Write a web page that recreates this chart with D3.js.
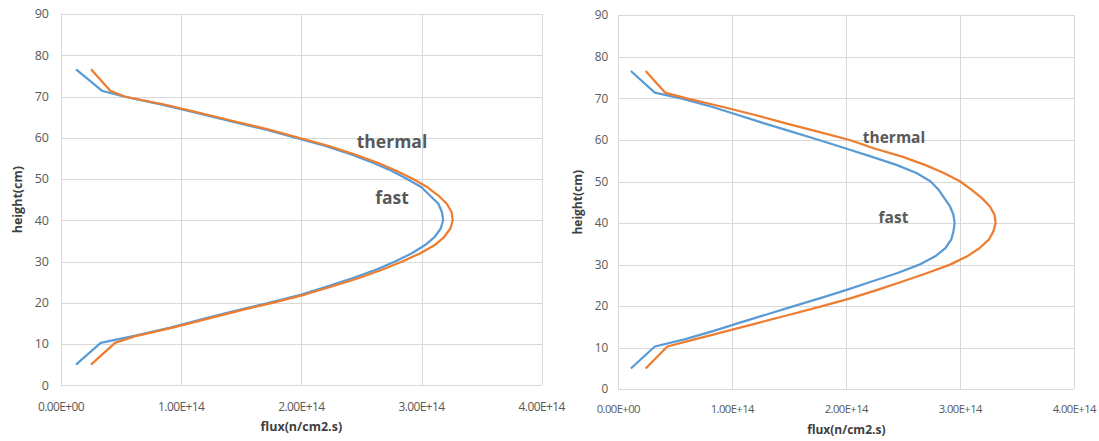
<!DOCTYPE html>
<html>
<head>
<meta charset="utf-8">
<script src="https://cdn.jsdelivr.net/npm/d3@7"></script>
<style>
  body { margin: 0; background: #fff; }
  svg { display: block; }
  .grid line { stroke: #d9d9d9; stroke-width: 1; shape-rendering: crispEdges; }
  .tick-label { fill: #595959; font-family: "Open Sans", sans-serif; }
  .axis-title { fill: #404040; font-family: "Open Sans", sans-serif; font-weight: bold; }
  .series-label { fill: #595959; font-family: "Open Sans", sans-serif; font-weight: bold; }
</style>
</head>
<body>
<div class="chart__container"></div>
<script>
// data (flux in units of 1e14 n/cm2.s, height in cm)
const heights = [5, 10.3, 12, 14, 16, 18, 20, 22, 24, 26, 28, 30, 32, 34, 36, 38, 40,
  42, 44, 46, 48, 50, 52, 54, 56, 58, 60, 62, 64, 66, 68, 70, 71.4, 76.6];

const fastLeft = [0.125, 0.33, 0.61, 0.91, 1.17, 1.44, 1.73, 2.00, 2.22, 2.43, 2.62, 2.78, 2.92, 3.03, 3.11, 3.16, 3.18,
  3.17, 3.14, 3.07, 3.00, 2.88, 2.75, 2.59, 2.41, 2.20, 1.95, 1.70, 1.41, 1.13, 0.84, 0.52, 0.34, 0.125];
const thermalLeft = [0.25, 0.45, 0.63, 0.93, 1.20, 1.47, 1.76, 2.03, 2.26, 2.48, 2.67, 2.84, 2.99, 3.11, 3.19, 3.24, 3.26,
  3.25, 3.21, 3.14, 3.05, 2.93, 2.79, 2.63, 2.44, 2.23, 1.98, 1.73, 1.44, 1.16, 0.87, 0.53, 0.41, 0.25];

const fastRight = [0.11, 0.32, 0.58, 0.83, 1.06, 1.30, 1.54, 1.78, 2.01, 2.23, 2.45, 2.64, 2.78, 2.87, 2.92, 2.94, 2.95,
  2.94, 2.91, 2.86, 2.81, 2.74, 2.62, 2.44, 2.22, 1.99, 1.76, 1.52, 1.28, 1.05, 0.82, 0.55, 0.32, 0.11];
const thermalRight = [0.24, 0.43, 0.67, 0.95, 1.23, 1.51, 1.79, 2.05, 2.28, 2.50, 2.71, 2.91, 3.06, 3.17, 3.25, 3.29, 3.31,
  3.30, 3.26, 3.19, 3.10, 3.00, 2.86, 2.69, 2.49, 2.24, 2.03, 1.75, 1.47, 1.20, 0.91, 0.60, 0.41, 0.24];

const xTicks = [0, 1e14, 2e14, 3e14, 4e14];
const yTicks = [0, 10, 20, 30, 40, 50, 60, 70, 80, 90];
const unit = 1e14;

const xTitle = 'flux(n/cm2.s)';
const yTitle = 'height(cm)';

// utilities
const formatSci = d => {
  if (d === 0) return '0.00E+00';
  const exp = Math.floor(Math.log10(Math.abs(d)));
  const mant = d / Math.pow(10, exp);
  return mant.toFixed(2) + 'E+' + String(exp).padStart(2, '0');
};

const toPoints = (fluxes) => heights.map((h, i) => ({ h: h, flux: fluxes[i] * unit }));

const width = 1099;
const height = 441;

const svg = d3.select('.chart__container')
  .append('svg')
  .attr('width', width)
  .attr('height', height);

const defineChart = (cfg) => {
  const xScale = d3.scaleLinear().domain([0, 4e14]).range([cfg.x0, cfg.x1]);
  const yScale = d3.scaleLinear().domain([0, 90]).range([cfg.y0, cfg.y1]);

  const g = svg.append('g');

  // gridlines
  const grid = g.append('g').attr('class', 'grid');
  grid.selectAll('.h')
    .data(yTicks)
    .enter()
    .append('line')
    .attr('x1', cfg.x0).attr('x2', cfg.x1)
    .attr('y1', d => Math.round(yScale(d)) + 0.5)
    .attr('y2', d => Math.round(yScale(d)) + 0.5);
  grid.selectAll('.v')
    .data(xTicks)
    .enter()
    .append('line')
    .attr('y1', cfg.y0).attr('y2', cfg.y1)
    .attr('x1', d => Math.round(xScale(d)) + 0.5)
    .attr('x2', d => Math.round(xScale(d)) + 0.5);

  // tick labels
  g.selectAll('.ytl')
    .data(yTicks)
    .enter()
    .append('text')
    .attr('class', 'tick-label')
    .attr('x', cfg.x0 - cfg.yLabelGap)
    .attr('y', d => yScale(d))
    .attr('dy', '0.35em')
    .attr('text-anchor', 'end')
    .style('font-size', cfg.yTickSize + 'px')
    .text(d => d);

  g.selectAll('.xtl')
    .data(xTicks)
    .enter()
    .append('text')
    .attr('class', 'tick-label')
    .attr('x', d => xScale(d))
    .attr('y', cfg.xLabelY)
    .attr('text-anchor', 'middle')
    .style('font-size', cfg.xTickSize + 'px')
    .style('letter-spacing', cfg.xTickSpacing + 'px')
    .text(formatSci);

  // axis titles
  g.append('text')
    .attr('class', 'axis-title')
    .attr('x', (cfg.x0 + cfg.x1) / 2)
    .attr('y', cfg.xTitleY)
    .attr('text-anchor', 'middle')
    .style('font-size', cfg.titleSize + 'px')
    .text(xTitle);

  g.append('text')
    .attr('class', 'axis-title')
    .attr('transform', `translate(${cfg.yTitleX},${(cfg.y0 + cfg.y1) / 2}) rotate(-90)`)
    .attr('text-anchor', 'middle')
    .style('font-size', cfg.titleSize + 'px')
    .text(yTitle);

  // lines
  const line = d3.line()
    .x(d => xScale(d.flux))
    .y(d => yScale(d.h));

  g.append('path')
    .datum(toPoints(cfg.fast))
    .attr('d', line)
    .attr('fill', 'none')
    .attr('stroke', '#5b9bd5')
    .attr('stroke-width', 2.25)
    .attr('stroke-linejoin', 'round');

  g.append('path')
    .datum(toPoints(cfg.thermal))
    .attr('d', line)
    .attr('fill', 'none')
    .attr('stroke', '#ed7d31')
    .attr('stroke-width', 2.25)
    .attr('stroke-linejoin', 'round');

  // series labels
  cfg.labels.forEach(l => {
    g.append('text')
      .attr('class', 'series-label')
      .attr('x', l.x)
      .attr('y', l.y)
      .attr('text-anchor', 'middle')
      .style('font-size', cfg.labelSize + 'px')
      .text(l.text);
  });
};

defineChart({
  x0: 61, x1: 541.7, y0: 385.3, y1: 14,
  fast: fastLeft, thermal: thermalLeft,
  yLabelGap: 12, yTickSize: 12.5, xTickSize: 12, xTickSpacing: -0.6,
  xLabelY: 410.5, xTitleY: 431, yTitleX: 21.5, titleSize: 12.5, labelSize: 17.5,
  labels: [{ text: 'thermal', x: 392, y: 148 }, { text: 'fast', x: 392, y: 204 }]
});

defineChart({
  x0: 618.3, x1: 1074.3, y0: 389.3, y1: 15.3,
  fast: fastRight, thermal: thermalRight,
  yLabelGap: 10, yTickSize: 11.8, xTickSize: 11.3, xTickSpacing: -0.6,
  xLabelY: 413, xTitleY: 434, yTitleX: 581.5, titleSize: 12, labelSize: 15.5,
  labels: [{ text: 'thermal', x: 894, y: 142.5 }, { text: 'fast', x: 893.5, y: 222.5 }]
});
</script>
</body>
</html>
